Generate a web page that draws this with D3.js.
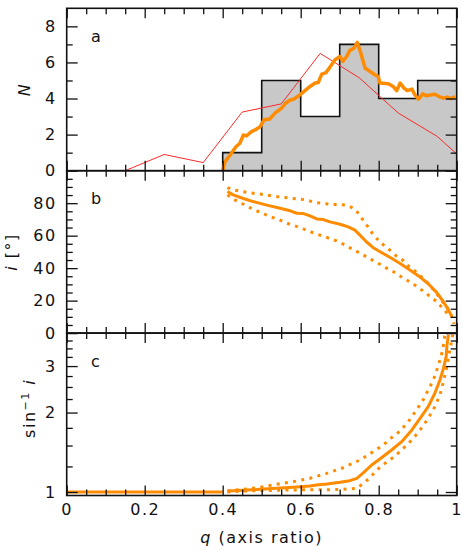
<!DOCTYPE html>
<html>
<head>
<meta charset="utf-8">
<script src="https://cdn.jsdelivr.net/npm/d3@7"></script>
<style>
  body { margin: 0; background: #fff; }
  svg text { font-family: "DejaVu Sans", sans-serif; font-size: 16px; fill: #111; letter-spacing: 1.5px; }
</style>
</head>
<body>
<script>
// --- data ---
// panel a: histogram of axis ratios
var binEdges = [0.4, 0.5, 0.6, 0.7, 0.8, 0.9, 1.0];
var binCounts = [1, 5, 3, 7, 4, 5];

// thin red line (model prediction)
var redQ = [0.15, 0.25, 0.35, 0.45, 0.55, 0.65, 0.75, 0.85, 0.95, 1.0];
var redN = [0, 0.9, 0.45, 3.25, 3.7, 6.5, 5.15, 3.2, 1.9, 0.93];

// thick orange line (smoothed distribution)
var smoothQ = [0.400, 0.406, 0.419, 0.434, 0.444, 0.453, 0.461, 0.474, 0.483, 0.496, 0.506, 0.521,
  0.534, 0.551, 0.560, 0.571, 0.585, 0.598, 0.611, 0.624, 0.637, 0.645, 0.654, 0.665, 0.675, 0.688,
  0.701, 0.708, 0.718, 0.726, 0.737, 0.745, 0.754, 0.765, 0.778, 0.790, 0.799, 0.803, 0.825, 0.837,
  0.846, 0.855, 0.865, 0.873, 0.885, 0.893, 0.902, 0.913, 0.923, 0.933, 0.944, 0.955, 0.966, 0.976,
  0.985, 0.996];
var smoothN = [0, 0.5, 0.87, 1.33, 1.52, 1.98, 1.93, 2.17, 2.26, 2.44, 2.82, 2.87,
  3.19, 3.47, 3.71, 3.89, 4.0, 4.2, 4.44, 4.67, 4.86, 4.89, 5.35, 5.44, 5.74, 6.15,
  6.33, 6.06, 6.33, 6.67, 6.8, 7.11, 6.52, 5.69, 5.5, 5.32, 5.22, 4.86, 4.82, 4.67,
  4.43, 4.86, 4.58, 4.44, 4.52, 4.2, 3.96, 4.26, 4.15, 4.2, 4.24, 4.11, 4.02, 4.08,
  4.0, 4.1];

// panel b: inclination (degrees)
var incQ = [0.412, 0.427, 0.453, 0.478, 0.513, 0.547, 0.573, 0.590, 0.607, 0.624, 0.641, 0.658,
  0.675, 0.701, 0.722, 0.739, 0.752, 0.769, 0.786, 0.808, 0.833, 0.855, 0.880, 0.906, 0.927, 0.949,
  0.966, 0.978, 0.987];
var incMid = [87.2, 85.1, 82.9, 81.0, 78.8, 76.9, 75.3, 73.8, 73.6, 72.2, 70.3, 69.9,
  68.5, 67.0, 65.4, 63.4, 60.3, 56.1, 52.6, 49.5, 46.1, 42.8, 38.9, 34.5, 30.4, 24.9,
  19.3, 14.6, 10.5];
var incHiQ = [0.412, 0.431, 0.453, 0.474, 0.496, 0.517, 0.538, 0.560, 0.577, 0.598, 0.615, 0.637,
  0.658, 0.675, 0.696, 0.718, 0.737, 0.750, 0.761, 0.774, 0.785, 0.799, 0.812, 0.829, 0.845, 0.862,
  0.876, 0.893, 0.908, 0.923, 0.936, 0.949, 0.959, 0.968, 0.976, 0.983, 0.989, 0.993];
var incHi = [89.6, 88.0, 87.0, 86.2, 85.6, 84.9, 84.1, 83.5, 82.9, 82.5, 82.0, 80.4,
  80.0, 79.2, 79.2, 78.8, 76.7, 73.2, 69.1, 65.0, 60.9, 57.2, 54.3, 51.0, 47.5, 44.8,
  41.3, 38.2, 35.0, 31.6, 28.0, 24.2, 20.8, 18.1, 15.6, 12.5, 9.4, 5.7];
var incLoQ = [0.412, 0.427, 0.448, 0.466, 0.483, 0.504, 0.521, 0.543, 0.560, 0.581, 0.598, 0.620,
  0.637, 0.658, 0.675, 0.692, 0.713, 0.730, 0.750, 0.765, 0.785, 0.803, 0.821, 0.839, 0.859, 0.876,
  0.890, 0.906, 0.923, 0.938, 0.950, 0.959, 0.970, 0.981];
var incLo = [85.1, 82.5, 80.0, 77.7, 75.7, 73.6, 71.7, 70.1, 68.0, 66.4, 65.0, 62.9,
  61.3, 59.7, 58.2, 56.8, 54.3, 52.0, 49.5, 47.5, 44.8, 42.4, 39.9, 37.6, 34.5, 32.1,
  30.0, 27.3, 24.2, 21.4, 19.3, 16.7, 14.0, 9.9];

// panel c: 1 / sin i
var flatQ = [0, 0.4];
var flatV = [1, 1];
var cscQ = [0.412, 0.453, 0.496, 0.538, 0.581, 0.624, 0.641, 0.667, 0.701, 0.726, 0.744, 0.761,
  0.782, 0.803, 0.833, 0.859, 0.885, 0.906, 0.927, 0.944, 0.957, 0.966, 0.973, 0.975, 0.979];
var cscMid = [1.009, 1.015, 1.024, 1.033, 1.042, 1.054, 1.063, 1.072, 1.088, 1.104, 1.127, 1.184,
  1.266, 1.334, 1.443, 1.551, 1.718, 1.902, 2.106, 2.367, 2.656, 2.94, 3.26, 3.6, 3.94];
var cscUpQ = [0.412, 0.453, 0.496, 0.538, 0.581, 0.624, 0.667, 0.709, 0.752, 0.786, 0.812, 0.833,
  0.855, 0.876, 0.897, 0.914, 0.927, 0.940, 0.949, 0.957, 0.964, 0.970];
var cscUp = [1.01, 1.024, 1.042, 1.07, 1.094, 1.127, 1.177, 1.236, 1.322, 1.422, 1.507, 1.606,
  1.703, 1.848, 2.047, 2.233, 2.436, 2.656, 2.9, 3.16, 3.45, 3.95];
var cscDnQ = [0.412, 0.453, 0.496, 0.538, 0.581, 0.624, 0.667, 0.709, 0.744, 0.761, 0.776, 0.795,
  0.816, 0.842, 0.863, 0.885, 0.906, 0.927, 0.944, 0.957, 0.966, 0.974, 0.980, 0.985, 0.990];
var cscDn = [1.0, 1.009, 1.012, 1.015, 1.018, 1.02, 1.02, 1.024, 1.033, 1.079, 1.127, 1.212,
  1.284, 1.369, 1.464, 1.575, 1.718, 1.902, 2.106, 2.333, 2.617, 2.95, 3.3, 3.6, 3.95];

// ticks
var xMajor = [0, 0.2, 0.4, 0.6, 0.8, 1];
var xMinor = [0.05, 0.1, 0.15, 0.25, 0.3, 0.35, 0.45, 0.5, 0.55, 0.65, 0.7, 0.75, 0.85, 0.9, 0.95];
var aMajor = [0, 2, 4, 6, 8], aMinor = [1, 3, 5, 7];
var bMajor = [0, 20, 40, 60, 80];
var bMinor = [5, 10, 15, 25, 30, 35, 45, 50, 55, 65, 70, 75, 85, 90, 95];
var cMajor = [1, 2, 3];
var cMinor = [1.25, 1.5, 1.75, 2.25, 2.5, 2.75, 3.25, 3.5, 3.75];

var orange = "#ff8c00";
var W = 463, H = 551;
var left = 66.7, right = 456.7, ph = 162.4;
var tops = [8.3, 170.7, 333.1];

var svg = d3.select("body").append("svg").attr("width", W).attr("height", H);

var x = d3.scaleLinear().domain([0, 1]).range([left, right]);
var ya = d3.scaleLinear().domain([0, 9]).range([tops[0] + ph, tops[0]]);
var yb = d3.scaleLinear().domain([0, 100]).range([tops[1] + ph, tops[1]]);
var yc = d3.scaleLog().domain([0.97, 4]).range([tops[2] + ph, tops[2]]);

function zip(qs, vs) { return qs.map(function (q, i) { return [q, vs[i]]; }); }

function plotLine(y, pts, color, width, dash) {
    var line = d3.line().x(function (d) { return x(d[0]); }).y(function (d) { return y(d[1]); });
    var p = svg.append("path").attr("d", line(pts))
        .attr("fill", "none").attr("stroke", color).attr("stroke-width", width)
        .attr("stroke-linejoin", "round");
    if (dash) p.attr("stroke-dasharray", dash);
    return p;
}

// panel a histogram
var stepPts = [[binEdges[0], 0]].concat(binEdges.map(function (e, i) {
    return [e, i < binCounts.length ? binCounts[i] : binCounts[binCounts.length - 1]];
}));
var area = d3.area().curve(d3.curveStepAfter)
    .x(function (d) { return x(d[0]); }).y0(ya(0)).y1(function (d) { return ya(d[1]); });
svg.append("path").attr("d", area(stepPts.slice(1))).attr("fill", "#c8c8c8");
var stepLine = d3.line().curve(d3.curveStepAfter)
    .x(function (d) { return x(d[0]); }).y(function (d) { return ya(d[1]); });
svg.append("path").attr("d", stepLine(stepPts))
    .attr("fill", "none").attr("stroke", "#111").attr("stroke-width", 1.6);

plotLine(ya, zip(redQ, redN), "#ff2a2a", 1);
plotLine(ya, zip(smoothQ, smoothN), orange, 3.5);

// panel b
plotLine(yb, zip(incHiQ, incHi), orange, 3, "3,5.3");
plotLine(yb, zip(incLoQ, incLo), orange, 3, "3,5.3");
plotLine(yb, zip(incQ, incMid), orange, 3);

// panel c
plotLine(yc, zip(flatQ, flatV), orange, 3);
plotLine(yc, zip(cscUpQ, cscUp), orange, 3, "3,5.3");
plotLine(yc, zip(cscDnQ, cscDn), orange, 3, "3,5.3");
plotLine(yc, zip(cscQ, cscMid), orange, 3);

// axes & frames
function styleAxis(g) {
    g.select(".domain").remove();
    g.selectAll(".tick line").attr("stroke", "#111").attr("stroke-width", 1.3);
    g.selectAll(".tick text").attr("fill", "#111");
}

var panels = [
    { y: ya, major: aMajor, minor: aMinor },
    { y: yb, major: bMajor, minor: bMinor },
    { y: yc, major: cMajor, minor: cMinor }
];

panels.forEach(function (p, i) {
    var top = tops[i], bot = tops[i] + ph;
    var last = i === 2;

    var gb = svg.append("g").attr("transform", "translate(0," + bot + ")")
        .call(d3.axisBottom(x).tickValues(xMajor).tickSize(-10).tickPadding(8)
            .tickFormat(last ? d3.format("") : function () { return ""; }));
    styleAxis(gb);
    styleAxis(svg.append("g").attr("transform", "translate(0," + bot + ")")
        .call(d3.axisBottom(x).tickValues(xMinor).tickSize(-6).tickFormat("")));
    styleAxis(svg.append("g").attr("transform", "translate(0," + top + ")")
        .call(d3.axisTop(x).tickValues(xMajor).tickSize(-10).tickFormat("")));
    styleAxis(svg.append("g").attr("transform", "translate(0," + top + ")")
        .call(d3.axisTop(x).tickValues(xMinor).tickSize(-6).tickFormat("")));

    styleAxis(svg.append("g").attr("transform", "translate(" + left + ",0)")
        .call(d3.axisLeft(p.y).tickValues(p.major).tickSize(-11).tickPadding(10)
            .tickFormat(d3.format(""))));
    styleAxis(svg.append("g").attr("transform", "translate(" + left + ",0)")
        .call(d3.axisLeft(p.y).tickValues(p.minor).tickSize(-6).tickFormat("")));
    styleAxis(svg.append("g").attr("transform", "translate(" + right + ",0)")
        .call(d3.axisRight(p.y).tickValues(p.major).tickSize(-11).tickFormat("")));
    styleAxis(svg.append("g").attr("transform", "translate(" + right + ",0)")
        .call(d3.axisRight(p.y).tickValues(p.minor).tickSize(-6).tickFormat("")));

    svg.append("rect").attr("x", left).attr("y", top)
        .attr("width", right - left).attr("height", ph)
        .attr("fill", "none").attr("stroke", "#111").attr("stroke-width", 1.6);

    svg.append("text").attr("x", 91).attr("y", top + 33.5).text(["a", "b", "c"][i]);
});

svg.selectAll(".tick text").style("font-family", "DejaVu Sans").style("font-size", "16px");

// axis titles
svg.append("text").attr("text-anchor", "middle")
    .attr("transform", "translate(29.5," + (tops[0] + ph / 2) + ") rotate(-90)")
    .append("tspan").style("font-style", "italic").text("N");

var tb = svg.append("text").attr("text-anchor", "middle")
    .attr("transform", "translate(16.5," + (tops[1] + ph / 2) + ") rotate(-90)");
tb.append("tspan").style("font-style", "italic").text("i");
tb.append("tspan").text(" [°]");

var tc = svg.append("text").attr("text-anchor", "middle")
    .attr("transform", "translate(35," + (tops[2] + ph / 2 - 6) + ") rotate(-90)");
tc.append("tspan").text("sin");
tc.append("tspan").attr("dy", -6).style("font-size", "11px").text("−1");
tc.append("tspan").attr("dy", 6).text(" ");
tc.append("tspan").style("font-style", "italic").text("i");

var tx = svg.append("text").attr("text-anchor", "middle")
    .attr("x", (left + right) / 2).attr("y", 543);
tx.append("tspan").style("font-style", "italic").text("q");
tx.append("tspan").text(" (axis ratio)");
</script>
</body>
</html>
